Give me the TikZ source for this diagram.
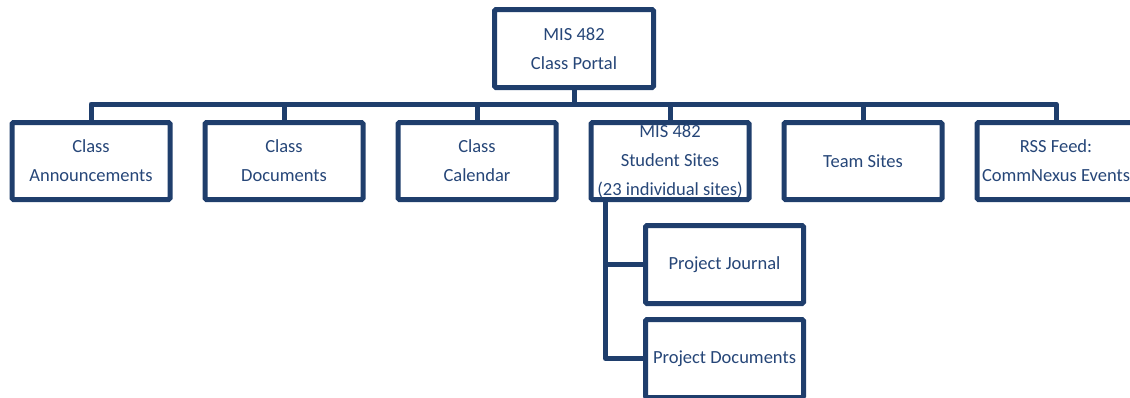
\documentclass[tikz,border=0pt]{standalone}
\usepackage{fontspec}
\setmainfont{Carlito}
\definecolor{navy}{RGB}{31,62,108}
\definecolor{navytext}{RGB}{38,70,120}
\tikzset{
  orgbox/.style={draw=navy, line width=5pt, fill=white, rounded corners=1.5pt,
    minimum width=158pt, minimum height=77pt, inner sep=0pt, align=center,
    text=navytext, font=\fontsize{18.5}{29}\selectfont},
  link/.style={draw=navy, line width=5pt, line join=round}
}
\begin{document}
\begin{tikzpicture}[x=1pt,y=-1pt]
\useasboundingbox (0,0) rectangle (1130,397);
\node[orgbox, minimum width=159pt, minimum height=78pt] (top) at (574,48.5) {MIS 482\\Class Portal};
\node[orgbox] (a1) at (91,161) {Class\\Announcements};
\node[orgbox] (a2) at (284,161) {Class\\Documents};
\node[orgbox] (a3) at (477,161) {Class\\Calendar};
\node[orgbox] (a4) at (670,161) {MIS 482\\Student Sites\\(23 individual sites)};
\node[orgbox] (a5) at (863,161) {Team Sites};
\node[orgbox] (a6) at (1056,161) {RSS Feed:\\CommNexus Events};
\node[orgbox, minimum height=78pt] (pj) at (724.5,264.5) {Project Journal};
\node[orgbox, minimum height=78pt] (pd) at (724.5,358.5) {Project Documents};
\coordinate (busL) at (91,104);
\coordinate (stem) at ([xshift=17pt]a4.south west);
\draw[link] (a1.north) -- (a1.north |- busL) -- (a6.north |- busL) -- (a6.north);
\draw[link] (top.south) -- (top.south |- busL);
\draw[link] (a2.north) -- (a2.north |- busL);
\draw[link] (a3.north) -- (a3.north |- busL);
\draw[link] (a4.north) -- (a4.north |- busL);
\draw[link] (a5.north) -- (a5.north |- busL);
\draw[link] (stem) |- (pd.west);
\draw[link] (stem |- pj.west) -- (pj.west);
\end{tikzpicture}
\end{document}
